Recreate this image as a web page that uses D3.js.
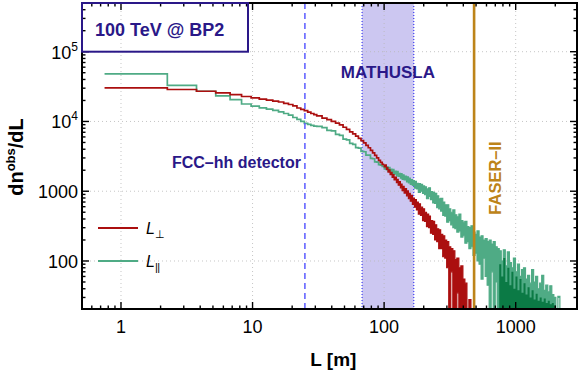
<!DOCTYPE html>
<html>
<head>
<meta charset="utf-8">
<script src="https://cdn.jsdelivr.net/npm/d3@7"></script>
<style>
  body { margin: 0; background: #fff; }
  svg { display: block; font-family: "Liberation Sans", Arial, Helvetica, sans-serif; }
</style>
</head>
<body>
<svg id="chart"></svg>
<script>
// bin starts L [m] of the resolved part of both histograms
const nearL = [
  0.75, 2.25, 3.75, 5.25, 6.75, 8.25, 9.75, 11.25, 12.75, 14.25,
  15.75, 17.25, 18.75, 20.25, 21.75, 23.25, 24.75, 26.25, 27.75, 29.25,
  30.75, 33.75, 36.75, 39.75, 42.75, 45.75, 48.75, 51.75, 54.75, 57.75,
  60.75, 63.75, 66.75, 69.75, 72.75, 75.75, 78.75, 81.75, 84.75, 87.75,
  90.75, 93.75, 96.75
];
const perpNear = [
  30300, 28700, 27100, 25700, 24300, 22800, 21800, 20900, 20200, 19600,
  19000, 18200, 17500, 16700, 15600, 14900, 14300, 13600, 13000, 12500,
  12000, 11200, 10600, 10000, 9460, 8920, 8260, 7690, 7080, 6630,
  6150, 5720, 5300, 4930, 4540, 4200, 3850, 3550, 3270, 3010,
  2770, 2600, 2430
];
const paraNear = [
  48000, 33000, 27100, 23200, 20600, 17800, 16600, 15700, 15000, 14400,
  13700, 13000, 12300, 11400, 10700, 10000, 9400, 9100, 8800, 8600,
  8480, 8150, 7450, 7350, 6550, 6300, 5600, 5450, 4850, 4700,
  4220, 4150, 3720, 3680, 3300, 3300, 2960, 2920, 2640, 2620,
  2400, 2360, 2260
];

// noisy tail: columns of many small bins, min / max count per column
const tailL = [
  100, 104, 107, 111, 115, 119, 124, 128, 133, 137,
  142, 148, 153, 158, 164, 170, 176, 182, 189, 196,
  203, 210, 218, 225, 234, 242, 251, 260, 269, 279,
  289, 299, 310, 321, 333, 345, 357, 370, 383, 397,
  411, 426, 441, 457, 474, 491, 508, 527, 546, 565,
  586, 607, 629, 651, 675, 699, 724, 750, 777, 805,
  834, 864, 896, 928, 961, 996, 1032, 1069, 1107, 1147,
  1188, 1231, 1276, 1321, 1369, 1418, 1469, 1522, 1577, 1634,
  1693, 1754, 1817, 1882, 1950, 2020, 2093, 2168
];
const perpLo = [
  2230, 2050, 1880, 1730, 1580, 1450, 1330, 1220, 1120, 1020,
  940, 860, 780, 720, 650, 590, 540, 470, 450, 380,
  370, 310, 300, 250, 240, 200, 190, 150, 150, 115,
  110, 80, 0, 70, 0, 0, 35, 0, 0, 0,
  0, 0, 0, 0
];
const perpHi = [
  2380, 2190, 2030, 1870, 1730, 1600, 1480, 1370, 1270, 1170,
  1090, 1010, 930, 870, 800, 760, 700, 660, 590, 560,
  500, 470, 440, 380, 370, 330, 290, 280, 240, 230,
  200, 190, 160, 150, 140, 105, 110, 80, 85, 55,
  48, 0, 28, 0
];
const paraLo = [
  2080, 2020, 1930, 1900, 1790, 1760, 1660, 1630, 1540, 1480,
  1450, 1360, 1320, 1250, 1210, 1110, 1080, 960, 1000, 930,
  890, 780, 840, 760, 680, 670, 580, 560, 520, 450,
  440, 360, 380, 330, 300, 290, 260, 270, 220, 230,
  180, 190, 150, 160, 120, 130, 100, 90, 55, 110,
  60, 45, 0, 70, 0, 50, 0, 0, 0, 0,
  0, 0, 0, 0, 0, 0, 0, 0, 0, 0,
  0, 0, 0, 0, 0, 0, 0, 0, 0, 0,
  0, 0, 0, 0, 0, 0, 30, 0
];
const paraHi = [
  2330, 2250, 2200, 2080, 2060, 1950, 1930, 1800, 1790, 1720,
  1650, 1610, 1540, 1470, 1420, 1380, 1300, 1290, 1250, 1190,
  1160, 1080, 1120, 990, 960, 930, 860, 780, 790, 700,
  640, 640, 560, 500, 540, 460, 430, 470, 380, 360,
  370, 310, 300, 320, 260, 240, 270, 220, 230, 200,
  210, 190, 200, 175, 190, 160, 150, 140, 100, 145,
  85, 135, 95, 80, 110, 70, 90, 60, 75, 80,
  55, 62, 48, 75, 50, 60, 40, 48, 62, 38,
  45, 36, 44, 33, 30, 0, 31, 0
];

// densely overlapping bins of the L_parallel tail (dark band)
const denseL = [
  750, 777, 805, 834, 864, 896, 928, 961, 996, 1032,
  1069, 1107, 1147, 1188, 1231, 1276, 1321, 1369, 1418, 1469,
  1522, 1577, 1634, 1693, 1754, 1817, 1882, 1950, 2020
];
const denseN = [
  90, 60, 110, 50, 80, 45, 70, 40, 60, 38,
  55, 35, 48, 33, 42, 30, 38, 28, 34, 27,
  30, 26, 29, 25, 27, 24, 25, 23, 0
];

const xMajor = [1, 10, 100, 1000];
const xLabels = ["1", "10", "100", "1000"];
const xMinor = [0.6, 0.7, 0.8, 0.9, 2, 3, 4, 5, 6, 7, 8, 9, 20, 30, 40, 50, 60, 70, 80, 90,
  200, 300, 400, 500, 600, 700, 800, 900, 2000];
const yMajor = [100, 1000, 1e4, 1e5];
const yLabels = [["100", ""], ["1000", ""], ["10", "4"], ["10", "5"]];
const yMinor = [30, 40, 50, 60, 70, 80, 90, 200, 300, 400, 500, 600, 700, 800, 900,
  2000, 3000, 4000, 5000, 6000, 7000, 8000, 9000,
  2e4, 3e4, 4e4, 5e4, 6e4, 7e4, 8e4, 9e4, 2e5, 3e5, 4e5];

const fccL = 25;
const mathusla = [68, 168];
const faserL = 483;

const navy = "#2a1888";
const red = "#ab0f0f";
const green = "#4fab85";
const darkGreen = "#0b7a45";
const gold = "#bd8419";

const W = 581, H = 374;
const margin = { left: 82, right: 4, top: 3, bottom: 65 };
const width = W - margin.left - margin.right;
const height = H - margin.top - margin.bottom;

const svg = d3.select("#chart").attr("width", W).attr("height", H);
const g = svg.append("g").attr("transform", `translate(${margin.left},${margin.top})`);

const x = d3.scaleLog().domain([0.5054, 2925]).range([0, width]);
const y = d3.scaleLog().domain([20.5, 4.99e5]).range([height, 0]);
const yc = n => y(Math.max(n, 8)); // empty bins fall below the frame

g.append("clipPath").attr("id", "plot")
  .append("rect").attr("width", width).attr("height", height);

// MATHUSLA band
g.append("rect")
  .attr("x", x(mathusla[0])).attr("y", 0)
  .attr("width", x(mathusla[1]) - x(mathusla[0])).attr("height", height)
  .attr("fill", "rgb(204,199,241)");
g.selectAll(".mEdge").data(mathusla).enter().append("line")
  .attr("x1", d => x(d)).attr("x2", d => x(d))
  .attr("y1", 0).attr("y2", height)
  .attr("stroke", "#3b3bf0").attr("stroke-width", 1.2)
  .attr("stroke-dasharray", "1,2");

// grid
g.selectAll(".gx").data(xMajor).enter().append("line")
  .attr("x1", d => x(d)).attr("x2", d => x(d))
  .attr("y1", 0).attr("y2", height)
  .attr("stroke", "#b8b8b8").attr("stroke-width", 0.8).attr("stroke-dasharray", "1,3");
g.selectAll(".gy").data(yMajor).enter().append("line")
  .attr("x1", 0).attr("x2", width)
  .attr("y1", d => y(d)).attr("y2", d => y(d))
  .attr("stroke", "#b8b8b8").attr("stroke-width", 0.8).attr("stroke-dasharray", "1,3");

// histograms
const plot = g.append("g").attr("clip-path", "url(#plot)");
const line = d3.line().curve(d3.curveStepAfter).x(d => x(d.L)).y(d => yc(d.n));
const band = d3.area().curve(d3.curveStepAfter)
  .x(d => x(d.L)).y0(d => yc(d.lo)).y1(d => yc(d.hi));

function drawSeries(nearN, lo, hi, color) {
  const pts = nearN.map((n, i) => ({ L: nearL[i], n }));
  pts.push({ L: tailL[0], n: nearN[nearN.length - 1] });
  plot.append("path").datum(pts)
    .attr("d", line).attr("fill", "none")
    .attr("stroke", color).attr("stroke-width", 1.7);
  const cols = lo.map((v, i) => ({ L: tailL[i], lo: v, hi: hi[i] }));
  plot.append("path").datum(cols)
    .attr("d", band).attr("fill", color)
    .attr("stroke", color).attr("stroke-width", 1.2);
}

drawSeries(paraNear, paraLo, paraHi, green);
const dense = denseN.map((n, i) => ({ L: denseL[i], lo: 0, hi: n }));
plot.append("path").datum(dense).attr("d", band).attr("fill", darkGreen);
drawSeries(perpNear, perpLo, perpHi, red);

// FCC-hh detector edge
g.append("line")
  .attr("x1", x(fccL)).attr("x2", x(fccL)).attr("y1", 0).attr("y2", height)
  .attr("stroke", "#5b5bff").attr("stroke-width", 1.5).attr("stroke-dasharray", "6,4");
// FASER-II
g.append("line")
  .attr("x1", x(faserL)).attr("x2", x(faserL)).attr("y1", 0).attr("y2", height)
  .attr("stroke", gold).attr("stroke-width", 2.6);

// annotations
g.append("text").attr("x", x(fccL) - 4).attr("y", 165)
  .attr("text-anchor", "end").attr("font-size", 16).attr("font-weight", "bold")
  .attr("fill", navy).text("FCC\u2013hh detector");
g.append("text").attr("x", x(Math.sqrt(mathusla[0] * mathusla[1]))).attr("y", 75)
  .attr("text-anchor", "middle").attr("font-size", 17).attr("font-weight", "bold")
  .attr("fill", navy).text("MATHUSLA");
g.append("text")
  .attr("transform", `translate(${x(faserL) + 27},175) rotate(-90)`)
  .attr("text-anchor", "middle").attr("font-size", 16.5).attr("font-weight", "bold")
  .attr("fill", gold).text("FASER\u2013II");

// ticks, inward on all four sides
const tickG = g.append("g").attr("stroke", "#000").attr("stroke-width", 1.4);
function ticks(vals, len, side) {
  vals.forEach(v => {
    const t = tickG.append("line");
    if (side === "b") t.attr("x1", x(v)).attr("x2", x(v)).attr("y1", height).attr("y2", height - len);
    if (side === "t") t.attr("x1", x(v)).attr("x2", x(v)).attr("y1", 0).attr("y2", len);
    if (side === "l") t.attr("y1", y(v)).attr("y2", y(v)).attr("x1", 0).attr("x2", len);
    if (side === "r") t.attr("y1", y(v)).attr("y2", y(v)).attr("x1", width).attr("x2", width - len);
  });
}
["b", "t"].forEach(s => { ticks(xMajor, 7, s); ticks(xMinor, 3.5, s); });
["l", "r"].forEach(s => { ticks(yMajor, 7, s); ticks(yMinor, 3.5, s); });

g.append("rect").attr("width", width).attr("height", height)
  .attr("fill", "none").attr("stroke", "#000").attr("stroke-width", 2);

// tick labels
g.selectAll(".xl").data(xMajor).enter().append("text")
  .attr("x", d => x(d)).attr("y", height + 24)
  .attr("text-anchor", "middle").attr("font-size", 18)
  .text((d, i) => xLabels[i]);
const yl = g.selectAll(".yl").data(yMajor).enter().append("text")
  .attr("x", -4).attr("y", d => y(d) + 7)
  .attr("text-anchor", "end").attr("font-size", 18);
yl.append("tspan").text((d, i) => yLabels[i][0]);
yl.append("tspan").attr("font-size", 12).attr("dy", -8).text((d, i) => yLabels[i][1]);

// axis titles
g.append("text").attr("x", (x(10) + x(100)) / 2 + 15).attr("y", height + 57)
  .attr("text-anchor", "middle").attr("font-size", 19).attr("font-weight", "bold")
  .text("L [m]");
const yt = g.append("text")
  .attr("transform", `translate(${23 - margin.left},${157 - margin.top}) rotate(-90)`)
  .attr("text-anchor", "middle").attr("font-size", 20).attr("font-weight", "bold");
yt.append("tspan").text("dn");
yt.append("tspan").attr("font-size", 13).attr("dy", -8).text("obs");
yt.append("tspan").attr("dy", 8).text("/dL");

// legend
const legend = [["\u22a5", red, 225], ["||", green, 258]];
legend.forEach(([sub, c, ly]) => {
  g.append("line").attr("x1", 16).attr("x2", 56).attr("y1", ly).attr("y2", ly)
    .attr("stroke", c).attr("stroke-width", 2);
  const t = g.append("text").attr("x", 64).attr("y", ly + 6).attr("font-size", 16);
  t.append("tspan").attr("font-style", "italic").text("L");
  t.append("tspan").attr("font-size", 11).attr("dy", 4).attr("letter-spacing", -0.5).text(sub);
});

// label box
g.append("rect").attr("x", 0).attr("y", 0).attr("width", 166).attr("height", y(1e5))
  .attr("fill", "none").attr("stroke", navy).attr("stroke-width", 2);
g.append("text").attr("x", 13).attr("y", 33)
  .attr("font-size", 18).attr("font-weight", "bold").attr("fill", navy)
  .text("100 TeV @ BP2");
</script>
</body>
</html>
